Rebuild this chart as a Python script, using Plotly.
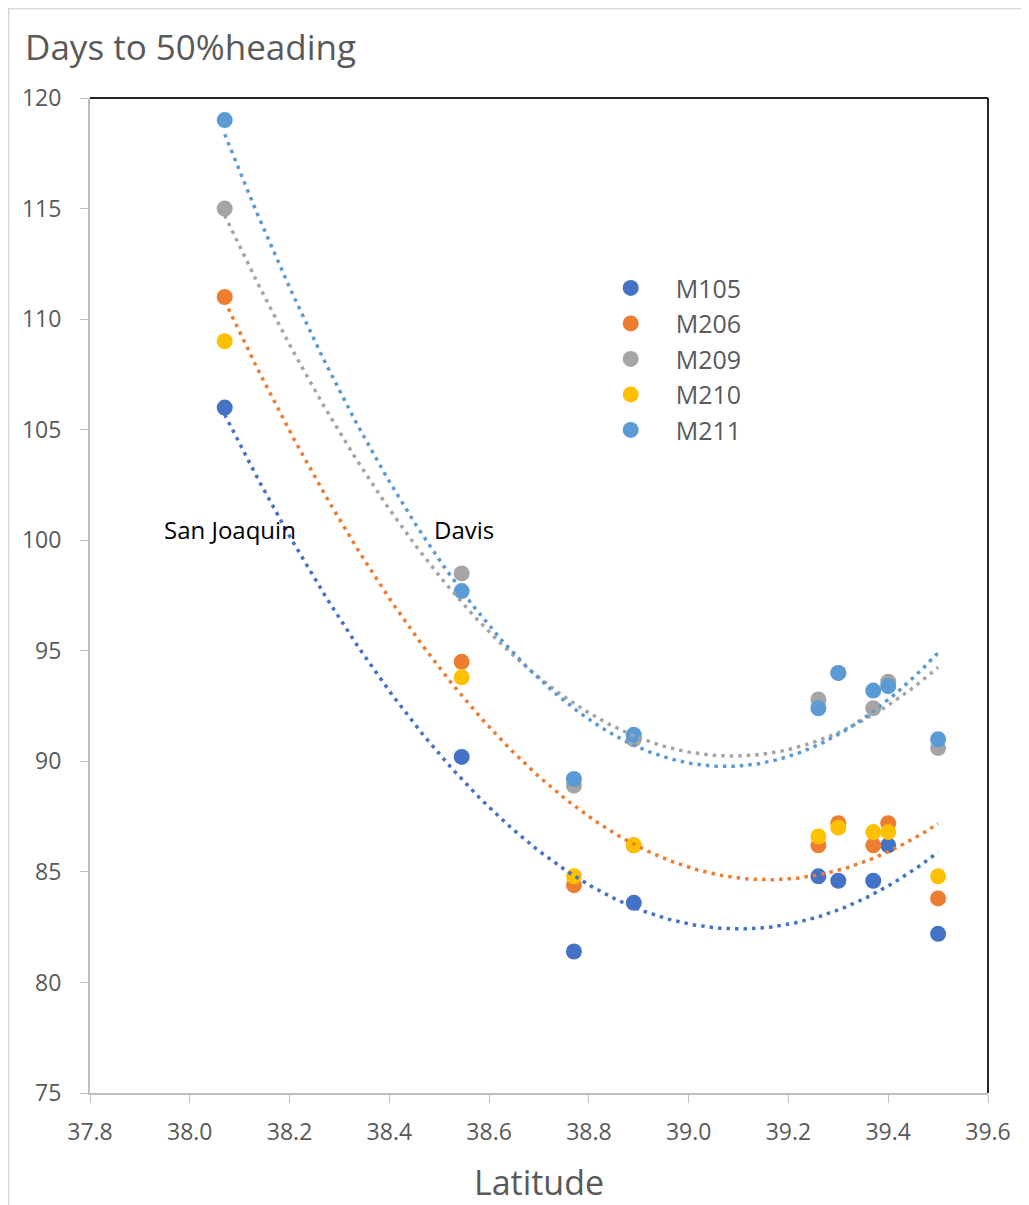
import numpy as np
import plotly.graph_objects as go

latitude = [38.07, 38.545, 38.77, 38.89, 39.26, 39.30, 39.37, 39.40, 39.50]
series_names = ["M105", "M206", "M209", "M210", "M211"]
M105 = [106.0, 90.2, 81.4, 83.6, 84.8, 84.6, 84.6, 86.2, 82.2]
M206 = [111.0, 94.5, 84.4, 86.2, 86.2, 87.2, 86.2, 87.2, 83.8]
M209 = [115.0, 98.5, 88.9, 91.0, 92.8, 94.0, 92.4, 93.6, 90.6]
M210 = [109.0, 93.8, 84.8, 86.2, 86.6, 87.0, 86.8, 86.8, 84.8]
M211 = [119.0, 97.7, 89.2, 91.2, 92.4, 94.0, 93.2, 93.4, 91.0]
series_values = [M105, M206, M209, M210, M211]
colors = ["#4472C4", "#ED7D31", "#A5A5A5", "#FFC000", "#5B9BD5"]
trend_series = ["M105", "M206", "M209", "M211"]
x_ticks = [37.8, 38.0, 38.2, 38.4, 38.6, 38.8, 39.0, 39.2, 39.4, 39.6]
y_ticks = [75, 80, 85, 90, 95, 100, 105, 110, 115, 120]
site_labels = ["San Joaquin", "Davis"]
site_label_x = [38.08, 38.55]
site_label_y = [100.5, 100.5]

FONT = "Open Sans"
GRAY = "#595959"

# page body has an 8px margin; figure placed so plot area is 90..988 x 98..1093 on page
L, R, T, B = 82, 49, 90, 120
PW, PH = 1029 - L - R, 1205 - T - B

fig = go.Figure()
for i, (name, vals) in enumerate(zip(series_names, series_values)):
    fig.add_trace(go.Scatter(
        x=latitude, y=vals, mode="markers", name=name,
        legendgroup=name,
        marker=dict(color=colors[i], size=16, line=dict(width=0)),
    ))

# polynomial (order 2) trendlines, drawn on top of the markers
for i, (name, vals) in enumerate(zip(series_names, series_values)):
    if name not in trend_series:
        continue
    coef = np.polyfit(latitude, vals, 2)
    xs = np.linspace(min(latitude), max(latitude), 200)
    ys = np.polyval(coef, xs)
    fig.add_trace(go.Scatter(
        x=xs, y=ys, mode="lines", showlegend=False, hoverinfo="skip",
        line=dict(color=colors[i], width=3.5, dash="3.5px,5px"),
    ))

for t, xx, yy in zip(site_labels, site_label_x, site_label_y):
    fig.add_annotation(x=xx, y=yy, text=t, showarrow=False,
                       font=dict(family=FONT, size=24, color="#000000"))

fig.update_layout(
    width=1029, height=1205,
    margin=dict(l=L, r=R, t=T, b=B),
    paper_bgcolor="white", plot_bgcolor="white",
    font=dict(family=FONT, color=GRAY),
    title=dict(text="Days to 50%heading", x=17 / 1029, xanchor="left",
               y=1 - 40 / 1205, yanchor="middle",
               font=dict(family=FONT, size=35, color=GRAY)),
    legend=dict(x=0.552, y=0.832, xanchor="left", yanchor="top",
                font=dict(family=FONT, size=25, color=GRAY),
                bgcolor="rgba(0,0,0,0)", tracegroupgap=0,
                itemwidth=80, traceorder="grouped"),
    showlegend=True,
)
fig.update_xaxes(range=[37.8, 39.6], tickvals=x_ticks,
                 ticktext=[f"{v:.1f}" for v in x_ticks],
                 showgrid=False, zeroline=False, showline=True,
                 linecolor="#BFBFBF", linewidth=2, ticks="outside",
                 tickcolor="#BFBFBF", ticklen=8, tickwidth=1,
                 ticklabelstandoff=9,
                 tickfont=dict(family=FONT, size=23, color=GRAY),
                 title=dict(text="Latitude", font=dict(family=FONT, size=34, color=GRAY),
                            standoff=26))
fig.update_yaxes(range=[75, 120], tickvals=y_ticks,
                 showgrid=False, zeroline=False, showline=True,
                 linecolor="#BFBFBF", linewidth=2, ticks="outside",
                 tickcolor="#BFBFBF", ticklen=8, tickwidth=1,
                 ticklabelstandoff=14,
                 tickfont=dict(family=FONT, size=23, color=GRAY))

# plot-area frame (top and right in dark)
fig.add_shape(type="line", xref="paper", yref="paper", x0=0, x1=1, y0=1, y1=1,
              line=dict(color="#262626", width=2))
fig.add_shape(type="line", xref="paper", yref="paper", x0=1, x1=1, y0=0, y1=1,
              line=dict(color="#262626", width=2))
# outer chart border
fig.add_shape(type="rect", xref="paper", yref="paper",
              x0=(0.75 - L) / PW, x1=(1100 - L) / PW,
              y0=(T + PH - 1230) / PH, y1=(T + PH - 0.75) / PH,
              line=dict(color="#D9D9D9", width=1.5), layer="below")

fig.write_html("out.html")
